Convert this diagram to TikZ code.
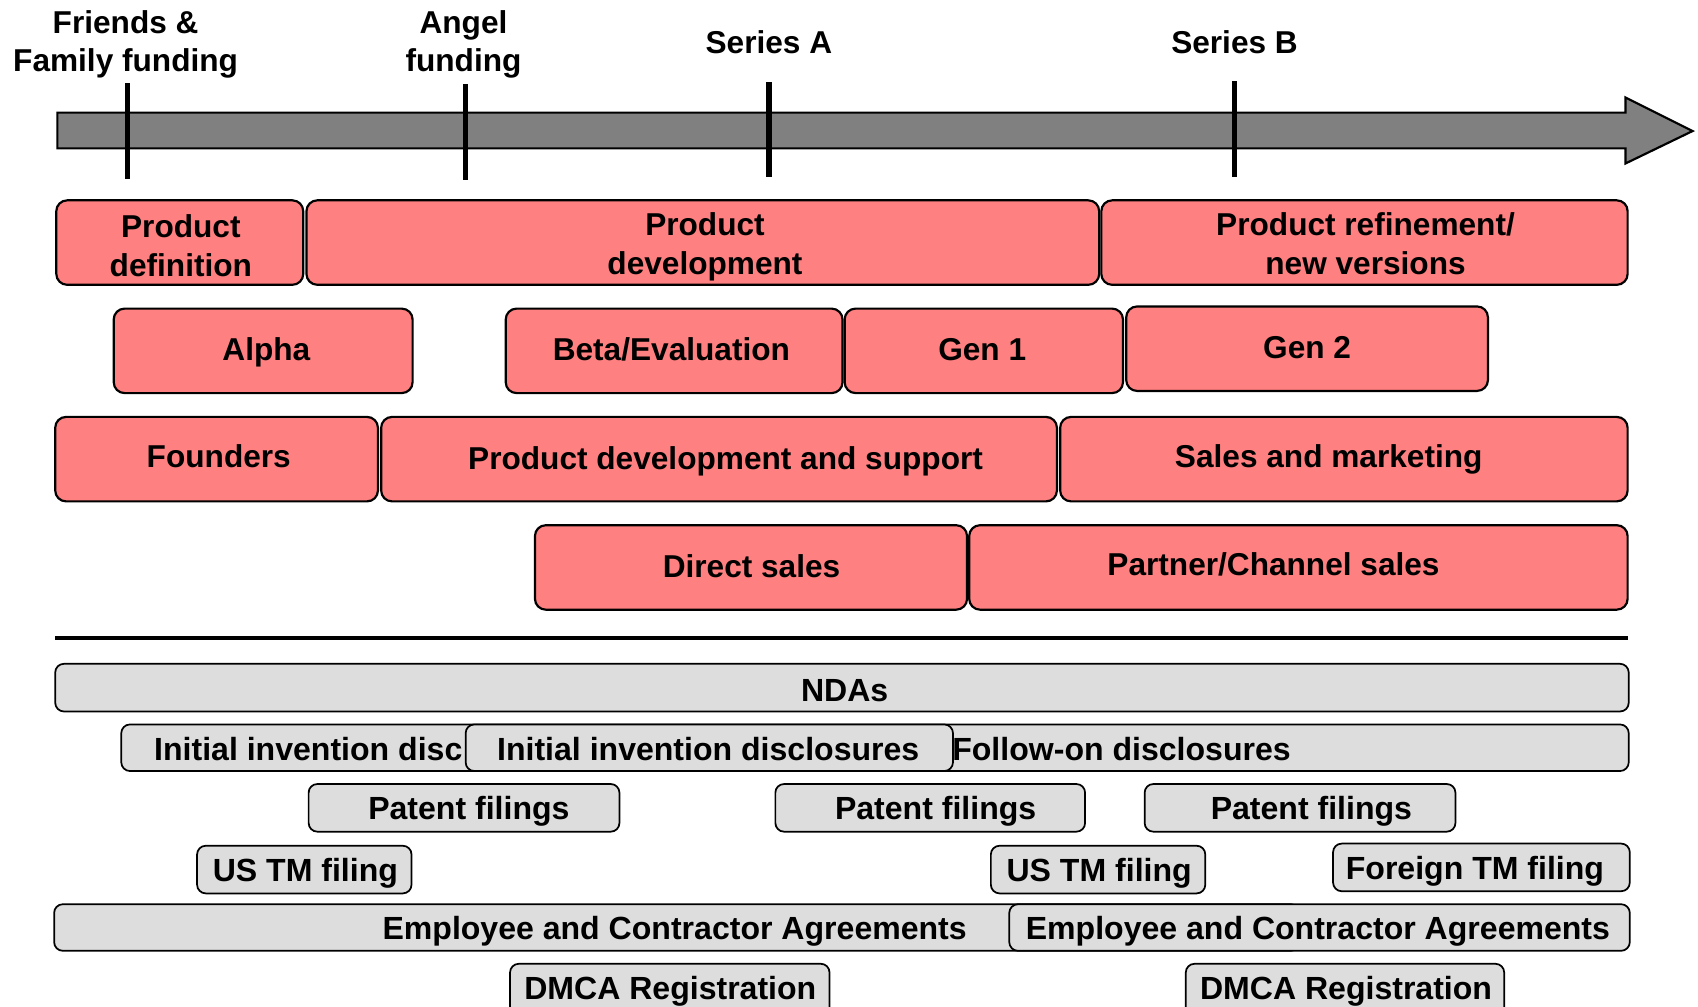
\documentclass[tikz,border=0pt]{standalone}
\usepackage{fontspec}
\setmainfont{Liberation Sans}
\usetikzlibrary{fit}
\definecolor{pinkfill}{HTML}{FF8080}
\definecolor{greyfill}{HTML}{DDDDDD}
\definecolor{arrowfill}{HTML}{808080}
\newcommand\bx[6]{\node[#1, fit={(#3,#4) (#5,#6)}] (#2) {};}
\begin{document}
\begin{tikzpicture}[x=0.5pt,y=-0.5pt,
  pinkbox/.style={draw=black, line width=1pt, fill=pinkfill, rounded corners=5pt, inner sep=0pt},
  greybox/.style={draw=black, line width=0.8pt, fill=greyfill, rounded corners=4pt, inner sep=0pt},
  ptext/.style={font=\bfseries\fontsize{14.6}{18}\selectfont, inner sep=0pt, text depth=0pt},
  ptwo/.style={font=\bfseries\fontsize{14.6}{18}\selectfont, inner sep=0pt, align=center},
  toptwo/.style={font=\bfseries\fontsize{14.6}{17.5}\selectfont, inner sep=0pt, align=center},
  gtext/.style={font=\bfseries\fontsize{14.8}{18}\selectfont, inner sep=0pt, text depth=0pt},
  tick/.style={line width=2.5pt},
]
\useasboundingbox (0,0) rectangle (1568,929);
\clip (0,0) rectangle (1568,929);

% timeline arrow
\draw[fill=arrowfill, line width=1pt] (53,104) -- (1501,104) -- (1501,90) -- (1563,121) -- (1501,151) -- (1501,137) -- (53,137) -- cycle;
\coordinate (k1a) at (118,77); \coordinate (k1b) at (118,165);
\coordinate (k2a) at (430,78); \coordinate (k2b) at (430,166);
\coordinate (k3a) at (710,76); \coordinate (k3b) at (710,163);
\coordinate (k4a) at (1140,75); \coordinate (k4b) at (1140,163);
\draw[tick] (k1a) -- (k1b);
\draw[tick] (k2a) -- (k2b);
\draw[tick] (k3a) -- (k3b);
\draw[tick] (k4a) -- (k4b);
\node[toptwo] (lff) at (116,41) {Friends \&\\Family funding};
\node[toptwo] (lang) at (428,41) {Angel\\funding};
\node[ptext] (lsa) at (710,39) {Series A};
\node[ptext] (lsb) at (1140,39) {Series B};

% row 1
\bx{pinkbox}{pdef}{52}{185}{280}{263}
\bx{pinkbox}{pdev}{283}{185}{1015}{263}
\bx{pinkbox}{pref}{1017}{185}{1503}{263}
\node[ptwo] (tpdef) at (167,227) {Product\\definition};
\node[ptwo] (tpdev) at (651,228) {Product\\development};
\node[ptwo] (tpref) at (1261,225) {Product refinement/\\new versions};

% row 2
\bx{pinkbox}{alpha}{105}{285}{381}{363}
\bx{pinkbox}{beta}{467}{285}{778}{363}
\bx{pinkbox}{gen1}{780}{285}{1037}{363}
\bx{pinkbox}{gen2}{1040}{283}{1374}{361}
\node[ptext] (talpha) at (246,322) {Alpha};
\node[ptext] (tbeta) at (620,322) {Beta/Evaluation};
\node[ptext] (tgen1) at (907,323) {Gen 1};
\node[ptext] (tgen2) at (1207,321) {Gen 2};

% row 3
\bx{pinkbox}{found}{51}{385}{349}{463}
\bx{pinkbox}{pds}{352}{385}{976}{463}
\bx{pinkbox}{sam}{979}{385}{1503}{463}
\node[ptext] (tfound) at (202,421) {Founders};
\node[ptext] (tpds) at (670,423) {Product development and support};
\node[ptext] (tsam) at (1227,421) {Sales and marketing};

% row 4
\bx{pinkbox}{dsales}{494}{485}{893}{563}
\bx{pinkbox}{psales}{895}{485}{1503}{563}
\node[ptext] (tdsales) at (694,523) {Direct sales};
\node[ptext] (tpsales) at (1176,521) {Partner/Channel sales};

% separator
\coordinate (sepl) at (51,589); \coordinate (sepr) at (1503,589);
\draw[line width=2pt] (sepl) -- (sepr);

% IP rows
\bx{greybox}{nda}{51}{613}{1504}{657}
\node[gtext] (tnda) at (780,638) {NDAs};

\bx{greybox}{iid1}{112}{669}{1504}{712}
\node[gtext, anchor=west] (tiid1) at (142,692) {Initial invention disc};
\node[gtext, anchor=west] (tfol) at (879,692) {Follow-on disclosures};
\bx{greybox}{iid2}{430}{669}{880}{712}
\node[gtext] (tiid2) at (654,692) {Initial invention disclosures};

\bx{greybox}{pat1}{285}{724}{572}{768}
\bx{greybox}{pat2}{716}{724}{1002}{768}
\bx{greybox}{pat3}{1057}{724}{1344}{768}
\node[gtext] (tpat1) at (433,746) {Patent filings};
\node[gtext] (tpat2) at (864,746) {Patent filings};
\node[gtext] (tpat3) at (1211,746) {Patent filings};

\bx{greybox}{ustm1}{182}{781}{380}{825}
\bx{greybox}{ustm2}{915}{781}{1113}{825}
\bx{greybox}{ftm}{1231}{779}{1505}{823}
\node[gtext] (tustm1) at (282,803) {US TM filing};
\node[gtext] (tustm2) at (1015,803) {US TM filing};
\node[gtext] (tftm) at (1362,801) {Foreign TM filing};

\bx{greybox}{eca1}{50}{835}{1200}{878}
\node[gtext] (teca1) at (623,857) {Employee and Contractor Agreements};
\bx{greybox}{eca2}{932}{835}{1505}{878}
\node[gtext] (teca2) at (1217,857) {Employee and Contractor Agreements};

\bx{greybox}{dmca1}{471}{890}{766}{950}
\bx{greybox}{dmca2}{1095}{890}{1389}{950}
\node[gtext] (tdmca1) at (619,912) {DMCA Registration};
\node[gtext] (tdmca2) at (1243,912) {DMCA Registration};
\end{tikzpicture}
\end{document}
